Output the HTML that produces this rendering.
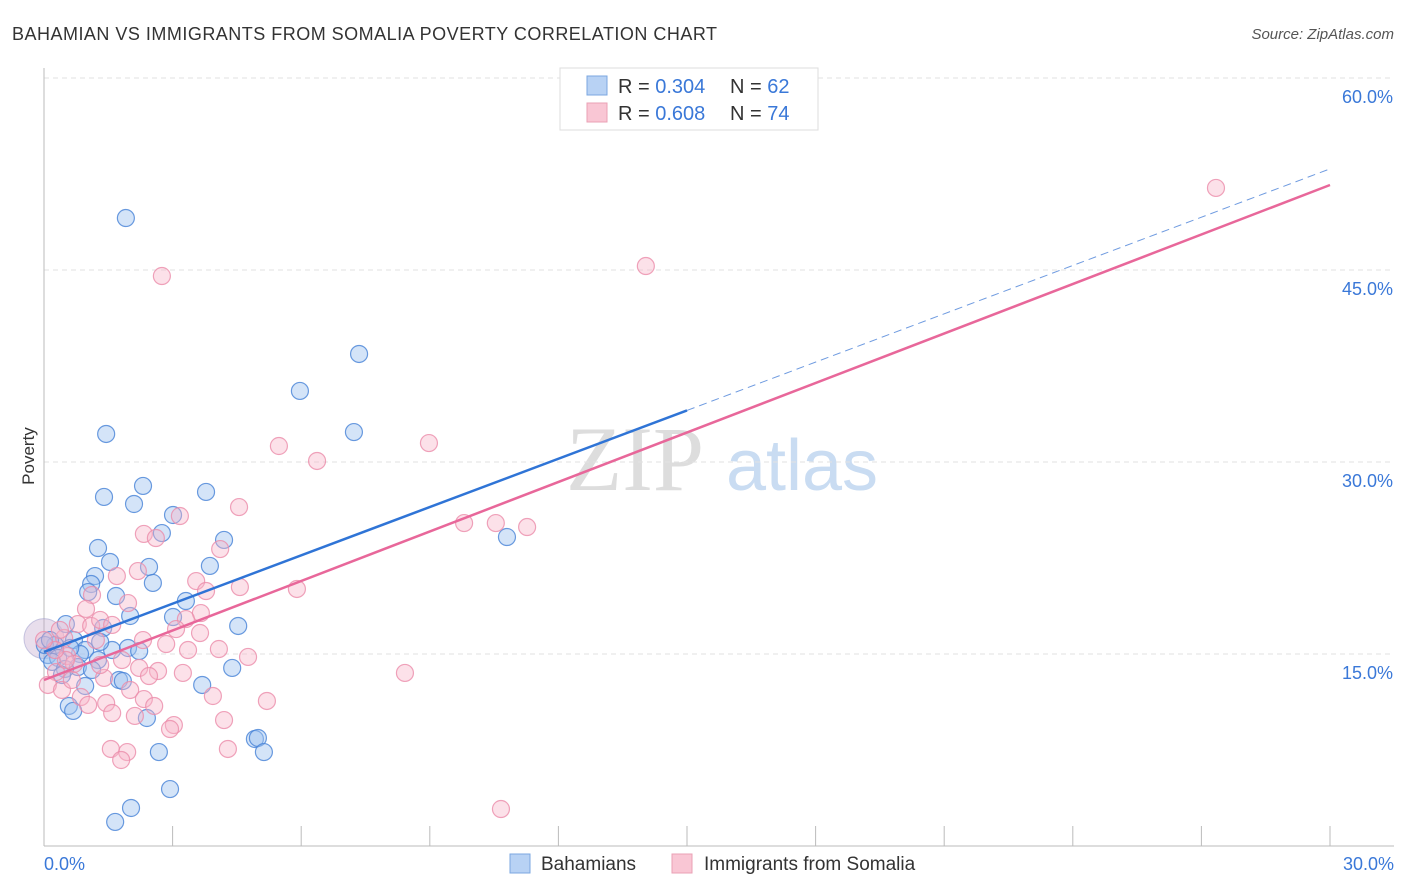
<!DOCTYPE html>
<html><head><meta charset="utf-8"><style>
body{margin:0;background:#fff;font-family:"Liberation Sans",sans-serif;}
svg{display:block}
</style></head><body>
<svg id="c" width="1406" height="892">
<text x="12" y="40" font-size="18" fill="#333" textLength="705" lengthAdjust="spacing">BAHAMIAN VS IMMIGRANTS FROM SOMALIA POVERTY CORRELATION CHART</text>
<text x="1394" y="39" font-size="15" fill="#555" font-style="italic" text-anchor="end">Source: ZipAtlas.com</text>
<text x="34" y="456" font-size="17" fill="#333" transform="rotate(-90 34 456)" text-anchor="middle">Poverty</text>
<g><text x="635" y="490" font-size="92" fill="#ddd" font-family="Liberation Serif,serif" text-anchor="middle">ZIP</text><text x="802" y="490" font-size="72" fill="#c9dcf2" text-anchor="middle">atlas</text></g>
<g id="grid"></g><g id="axes"></g><g id="pts"></g><g id="lines"></g>
<g>
<rect x="560" y="68" width="258" height="62" fill="#fff" stroke="#ddd"/>
<rect x="587" y="76" width="20" height="19" fill="#b8d2f4" stroke="#7ba7e0"/>
<rect x="587" y="103" width="20" height="19" fill="#f9c6d4" stroke="#eaa0b5"/>
<text x="618" y="93" font-size="20" fill="#333">R = <tspan fill="#3a78d8">0.304</tspan></text>
<text x="730" y="93" font-size="20" fill="#333">N = <tspan fill="#3a78d8">62</tspan></text>
<text x="618" y="120" font-size="20" fill="#333">R = <tspan fill="#3a78d8">0.608</tspan></text>
<text x="730" y="120" font-size="20" fill="#333">N = <tspan fill="#3a78d8">74</tspan></text>
</g>
<g>
<rect x="510" y="854" width="20" height="19" fill="#b8d2f4" stroke="#7ba7e0"/>
<text x="541" y="870" font-size="19" fill="#333">Bahamians</text>
<rect x="672" y="854" width="20" height="19" fill="#f9c6d4" stroke="#eaa0b5"/>
<text x="704" y="870" font-size="19" fill="#333">Immigrants from Somalia</text>
</g>
</svg>
<script>
const yTicks=[15,30,45,60];
const yTickLabels=["15.0%","30.0%","45.0%","60.0%"];
const xTickLabels=["0.0%","30.0%"];
const blueX=[1.91,7.35,5.97,7.23,1.45,2.31,3.78,1.40,2.10,3.01,2.75,4.20,10.80,1.26,1.54,2.45,3.87,1.19,2.54,1.10,1.03,1.68,3.31,2.01,3.01,0.51,1.38,4.53,0.70,0.26,0.96,1.59,1.96,2.22,0.09,0.33,0.84,1.26,0.79,0.19,0.49,1.12,4.39,0.96,1.75,1.84,3.69,0.58,0.68,2.40,4.92,4.99,5.13,2.68,2.94,2.03,1.66,0.02,0.42,1.31,0.14,0.61];
const blueY=[49.06,38.44,35.55,32.34,32.19,28.13,27.66,27.27,26.72,25.86,24.45,23.91,24.14,23.28,22.19,21.80,21.88,21.09,20.55,20.47,19.84,19.53,19.14,17.97,17.89,17.34,17.03,17.19,16.09,15.70,15.31,15.31,15.47,15.23,14.92,14.69,15.0,14.53,13.98,14.38,13.83,13.75,13.91,12.5,12.97,12.89,12.58,10.94,10.55,10.0,8.36,8.44,7.34,7.34,4.45,2.97,1.88,15.70,13.36,15.94,16.09,15.47];
const pinkX=[27.34,14.04,2.75,8.98,5.48,6.37,4.55,9.80,10.54,11.27,3.17,2.33,2.61,4.11,2.19,1.70,3.55,4.57,5.90,3.78,1.12,0.98,1.96,3.66,0.79,1.10,1.31,3.31,3.08,1.21,3.64,0.47,1.59,2.85,0.54,3.36,4.08,4.76,2.22,2.66,2.45,3.24,1.82,1.40,8.42,0.70,0.28,0.09,2.01,0.42,0.86,3.94,2.33,5.20,1.45,2.57,1.59,2.12,4.20,3.03,2.94,1.56,1.94,1.80,4.29,10.66,0.51,0.26,0.0,0.37,0.65,1.31,2.31,1.03];
const pinkY=[51.41,45.31,44.53,31.48,31.25,30.08,26.48,25.23,25.23,24.92,25.78,24.38,24.06,23.20,21.48,21.09,20.70,20.23,20.08,19.92,19.61,18.52,18.98,18.20,17.34,17.19,17.66,17.73,16.95,16.09,16.64,16.25,17.27,15.78,14.84,15.31,15.39,14.77,13.91,13.67,13.28,13.52,14.53,13.13,13.52,14.22,13.59,12.58,12.19,12.19,11.64,11.72,11.48,11.33,11.17,10.94,10.39,10.16,9.84,9.45,9.14,7.58,7.34,6.72,7.58,2.89,14.53,15.31,16.09,16.88,12.97,14.14,16.09,11.02];
const blueFit=[15.16,1.258];
const pinkFit=[12.97,1.289];
const X=v=>44+v*1286/30, Y=v=>846-v*192/15;
const NS="http://www.w3.org/2000/svg";
function mk(p,t,a){const e=document.createElementNS(NS,t);for(const k in a)e.setAttribute(k,a[k]);document.getElementById(p).appendChild(e);return e;}
yTicks.forEach((t,i)=>{
 const g=mk('grid','line',{x1:44,x2:1394,y1:Y(t),y2:Y(t),stroke:'#e2e2e2','stroke-dasharray':'5,4'});
 
 
 const l=mk('axes','text',{x:1393,y:Y(t)+25,'font-size':18,fill:'#3a78d8','text-anchor':'end'});l.textContent=yTickLabels[i];
 
 
});
const ax=mk('axes','line',{x1:44,x2:44,y1:68,y2:846,stroke:'#bbb'});


const bx=mk('axes','line',{x1:44,x2:1394,y1:846,y2:846,stroke:'#bbb'});


for(let i=1;i<=10;i++){const t=mk('axes','line',{x1:X(i*3),x2:X(i*3),y1:826,y2:846,stroke:'#bbb'});
 
 }
[[0,'start',44],[30,'end',1394]].forEach((d,i)=>{const t=mk('axes','text',{x:d[2],y:870,'font-size':18,fill:'#3a78d8','text-anchor':d[1]});t.textContent=xTickLabels[i];
 
 });
const big=mk('pts','circle',{cx:X(0),cy:Y(16.2),r:20,fill:'rgba(190,160,200,0.35)',stroke:'rgba(150,150,200,0.5)'});


blueX.forEach((x,i)=>{const c=mk('pts','circle',{cx:X(x),cy:Y(blueY[i]),r:8.5,fill:'rgba(160,196,240,0.45)',stroke:'rgba(70,130,215,0.8)','stroke-width':1.2});
 
 });
pinkX.forEach((x,i)=>{const c=mk('pts','circle',{cx:X(x),cy:Y(pinkY[i]),r:8.5,fill:'rgba(248,180,200,0.4)',stroke:'rgba(235,140,170,0.8)','stroke-width':1.2});
 
 });
const bl=mk('lines','line',{x1:X(0),y1:Y(blueFit[0]),x2:X(15),y2:Y(blueFit[0]+15*blueFit[1]),stroke:'#2f74d6','stroke-width':2.5});


const bd=mk('lines','line',{x1:X(15),y1:Y(blueFit[0]+15*blueFit[1]),x2:X(30),y2:Y(blueFit[0]+30*blueFit[1]),stroke:'#6f9be0','stroke-width':1,'stroke-dasharray':'8,5'});


const pl=mk('lines','line',{x1:X(0),y1:Y(pinkFit[0]),x2:X(30),y2:Y(pinkFit[0]+30*pinkFit[1]),stroke:'#e8679a','stroke-width':2.5});


</script>
</body></html>
